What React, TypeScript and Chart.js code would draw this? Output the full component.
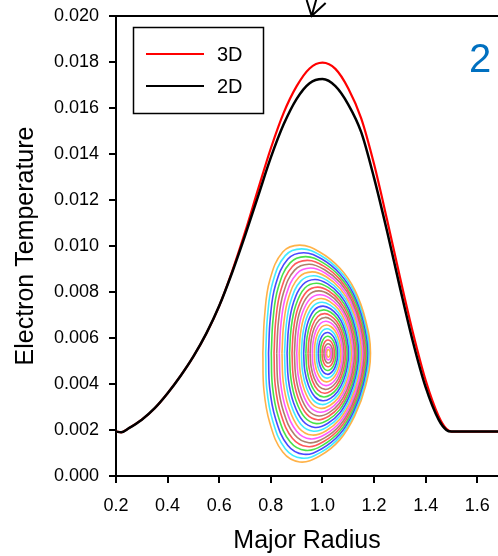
import React, { useEffect, useRef } from "react";
import { Chart, registerables } from "chart.js";

Chart.register(...registerables);

// Major radius sample positions
const radius = [0.20, 0.22, 0.25, 0.30, 0.35, 0.40, 0.45, 0.50, 0.55, 0.60, 0.65, 0.70, 0.75, 0.80, 0.85, 0.90, 0.95, 1.00, 1.05, 1.10, 1.15, 1.20, 1.25, 1.30, 1.35, 1.40, 1.45, 1.48, 1.50, 1.55, 1.60, 1.68];
// Electron temperature (x 1e-3)
const te2D = [1.93, 1.90, 2.08, 2.45, 2.95, 3.60, 4.35, 5.20, 6.20, 7.40, 8.85, 10.45, 12.15, 13.85, 15.30, 16.40, 17.08, 17.26, 16.95, 16.15, 14.95, 12.95, 10.65, 8.20, 5.85, 3.85, 2.45, 2.00, 1.93, 1.93, 1.93, 1.93];
const te3D = [1.93, 1.90, 2.08, 2.45, 2.95, 3.60, 4.35, 5.20, 6.20, 7.40, 8.90, 10.60, 12.45, 14.25, 15.80, 16.95, 17.72, 17.97, 17.70, 16.85, 15.55, 13.55, 11.15, 8.65, 6.25, 4.15, 2.60, 2.05, 1.93, 1.93, 1.93, 1.93];

const seriesNames = ["3D", "2D"];
const seriesColors = ["#ff0000", "#000000"];

const xTickLabels = ["0.2", "0.4", "0.6", "0.8", "1.0", "1.2", "1.4", "1.6"];
const yTickLabels = ["0.000", "0.002", "0.004", "0.006", "0.008", "0.010", "0.012", "0.014", "0.016", "0.018", "0.020"];

// Inset: outer flux surface outline and magnetic axis, in plot coordinates (T x 1e-3)
const boundaryR = [0.769, 0.776, 0.796, 0.846, 0.912, 0.989, 1.067, 1.125, 1.167, 1.186, 1.167, 1.125, 1.067, 0.989, 0.912, 0.846, 0.796, 0.773];
const boundaryT = [5.35, 7.0, 8.52, 9.74, 10.04, 9.74, 9.04, 8.09, 6.78, 5.35, 3.91, 2.61, 1.57, 0.87, 0.61, 1.04, 2.30, 3.74];
// Near-axis (elliptical) surface shape, offsets from the axis at full size
const coreDR = [-0.19, -0.1756, -0.1343, -0.0727, 0, 0.0587, 0.1117, 0.1537, 0.1807, 0.19, 0.1807, 0.1537, 0.1117, 0.0587, 0, -0.0727, -0.1343, -0.1756];
const coreDT = [0, 1.78, 3.29, 4.30, 4.65, 4.42, 3.76, 2.73, 1.44, 0, -1.44, -2.73, -3.76, -4.42, -4.65, -4.30, -3.29, -1.78];
const axisR = 1.023;
const axisT = 5.33;
const ringScales = [1.0, 0.965, 0.93, 0.895, 0.86, 0.825, 0.79, 0.755, 0.72, 0.685, 0.65, 0.615, 0.58, 0.545, 0.51, 0.475, 0.44, 0.405, 0.37, 0.335, 0.3, 0.265, 0.23, 0.195, 0.16, 0.125, 0.09, 0.06, 0.035];
const ringColors = [
  "rgba(255,165,40,0.85)",
  "rgba(30,230,255,0.85)",
  "rgba(40,40,255,0.85)",
  "rgba(40,220,40,0.85)",
  "rgba(255,60,60,0.85)",
  "rgba(160,105,80,0.85)",
  "rgba(255,60,255,0.85)",
];

const arrowTipR = 0.958;
const panelLabel = "2";

const FONT = "'Liberation Sans', Arial, sans-serif";

const decorPlugin = {
  id: "decor",
  afterDraw(chart: any) {
    const { ctx, chartArea, scales } = chart;
    ctx.save();
    // top frame line
    ctx.strokeStyle = "#000";
    ctx.lineWidth = 2;
    ctx.beginPath();
    ctx.moveTo(chartArea.left - 1, chartArea.top);
    ctx.lineTo(chartArea.right, chartArea.top);
    ctx.stroke();

    // arrow from above
    const tipX = scales.x.getPixelForValue(arrowTipR);
    const tipY = chartArea.top;
    ctx.lineWidth = 2;
    ctx.beginPath();
    ctx.moveTo(tipX + 5, tipY - 18);
    ctx.lineTo(tipX, tipY);
    ctx.moveTo(tipX - 5, tipY - 16);
    ctx.lineTo(tipX, tipY);
    ctx.lineTo(tipX + 14, tipY - 13);
    ctx.stroke();

    // legend box
    const bx = chartArea.left + 17;
    const by = chartArea.top + 11;
    ctx.strokeStyle = "#000";
    ctx.lineWidth = 1.5;
    ctx.strokeRect(bx + 0.5, by + 0.5, 130, 86);
    ctx.font = `20px ${FONT}`;
    ctx.textBaseline = "middle";
    ctx.textAlign = "left";
    seriesNames.forEach((name, i) => {
      const ly = by + 27 + i * 32;
      ctx.strokeStyle = seriesColors[i];
      ctx.lineWidth = 2.2;
      ctx.beginPath();
      ctx.moveTo(bx + 13, ly);
      ctx.lineTo(bx + 71, ly);
      ctx.stroke();
      ctx.fillStyle = "#000";
      ctx.fillText(name, bx + 84, ly + 1);
    });

    // panel label
    ctx.fillStyle = "rgb(0,112,192)";
    ctx.font = `40px ${FONT}`;
    ctx.textBaseline = "alphabetic";
    ctx.fillText(panelLabel, chartArea.right - 29, chartArea.top + 56);
    ctx.restore();
  },
};

export default function App() {
  const ref = useRef<HTMLCanvasElement | null>(null);

  useEffect(() => {
    document.body.style.margin = "0";
    document.body.style.overflow = "hidden";
    const canvas = ref.current!;

    const ringDatasets = ringScales.map((s, k) => {
      const w = s;
      const pts = boundaryR.map((r, i) => {
        const dr = (1 - w) * coreDR[i] + w * (r - axisR);
        const dt = (1 - w) * coreDT[i] + w * (boundaryT[i] - axisT);
        return { x: axisR + s * dr, y: (axisT + s * dt) * 1e-3 };
      });
      pts.push({ ...pts[0] });
      return {
        type: "scatter" as const,
        label: "ring" + k,
        data: pts,
        showLine: true,
        borderColor: ringColors[k % ringColors.length],
        borderWidth: 1.6,
        pointRadius: 0,
        tension: 0.4,
        fill: false,
        order: 3,
      };
    });

    const chart = new Chart(canvas, {
      type: "scatter",
      data: {
        datasets: [
          {
            label: seriesNames[1],
            data: radius.map((r, i) => ({ x: r, y: te2D[i] * 1e-3 })),
            showLine: true,
            borderColor: seriesColors[1],
            borderWidth: 2.5,
            pointRadius: 0,
            cubicInterpolationMode: "monotone",
            order: 0,
          },
          {
            label: seriesNames[0],
            data: radius.map((r, i) => ({ x: r, y: te3D[i] * 1e-3 })),
            showLine: true,
            borderColor: seriesColors[0],
            borderWidth: 2.2,
            pointRadius: 0,
            cubicInterpolationMode: "monotone",
            order: 1,
          },
          ...ringDatasets,
        ] as any,
      },
      options: {
        animation: false,
        responsive: false,
        maintainAspectRatio: false,
        layout: { padding: { top: 16, right: 0, left: 0, bottom: 0 } },
        plugins: {
          legend: { display: false },
          tooltip: { enabled: false },
        },
        scales: {
          x: {
            type: "linear",
            min: 0.2,
            max: 1.68,
            afterFit: (s: any) => {
              s.height = 80;
              s.paddingLeft = 0;
              s.paddingRight = 0;
            },
            ticks: {
              stepSize: 0.2,
              includeBounds: false,
              color: "#000",
              padding: 12,
              font: { family: FONT, size: 18 },
              maxRotation: 0,
              callback: (v: any) => {
                const idx = Math.round((Number(v) - 0.2) / 0.2);
                return xTickLabels[idx] ?? "";
              },
            },
            grid: {
              drawOnChartArea: false,
              drawTicks: true,
              tickLength: 7,
              color: "#000",
              lineWidth: 2,
            },
            border: { color: "#000", width: 2 },
            title: {
              display: true,
              text: "Major Radius",
              color: "#000",
              font: { family: FONT, size: 25 },
              padding: { top: 1, bottom: 0 },
            },
          },
          y: {
            type: "linear",
            min: 0,
            max: 0.02,
            afterFit: (s: any) => {
              s.width = 116;
              s.paddingTop = 0;
              s.paddingBottom = 0;
            },
            ticks: {
              stepSize: 0.002,
              color: "#000",
              padding: 10,
              font: { family: FONT, size: 18 },
              callback: (v: any) => {
                const idx = Math.round(Number(v) / 0.002);
                return yTickLabels[idx] ?? "";
              },
            },
            grid: {
              drawOnChartArea: false,
              drawTicks: true,
              tickLength: 7,
              color: "#000",
              lineWidth: 2,
            },
            border: { color: "#000", width: 2 },
            title: {
              display: true,
              text: "Electron Temperature",
              color: "#000",
              font: { family: FONT, size: 25 },
              padding: { top: 11, bottom: 0 },
            },
          },
        },
      },
      plugins: [decorPlugin],
    });

    return () => chart.destroy();
  }, []);

  return (
    <div style={{ width: 498, height: 556 }}>
      <canvas ref={ref} width={498} height={556} style={{ display: "block" }} />
    </div>
  );
}
